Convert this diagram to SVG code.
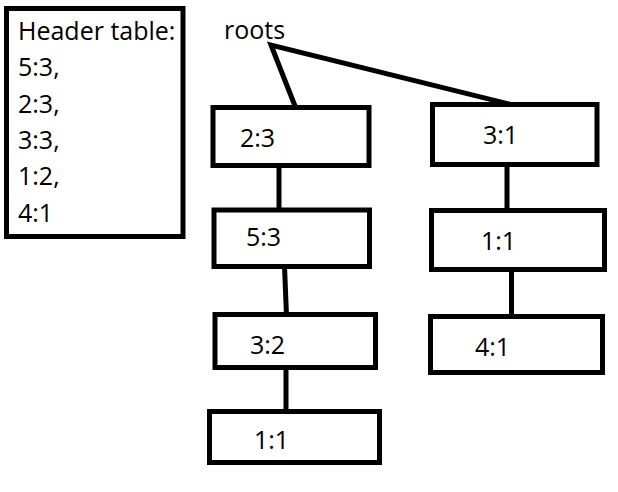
<svg xmlns="http://www.w3.org/2000/svg" width="618" height="492" viewBox="0 0 618 492">
<style>
.box{fill:#fff;stroke:#000;stroke-width:5}
.t{font-family:"Open Sans","DejaVu Sans",sans-serif;font-size:25px;fill:#000}
.c{stroke:#000;stroke-width:5;fill:none;stroke-linecap:butt}
</style>
<rect width="618" height="492" fill="#fff"/>
<g id="header">
<rect class="box" x="6.5" y="8.5" width="176.5" height="228"/>
<text class="t" x="18" y="40">Header table:</text>
<text class="t" x="18" y="76">5:3,</text>
<text class="t" x="18" y="113">2:3,</text>
<text class="t" x="18" y="149">3:3,</text>
<text class="t" x="18" y="185">1:2,</text>
<text class="t" x="18" y="222">4:1</text>
</g>
<g id="roots"><text class="t" x="224" y="39">roots</text></g>
<g id="connectors">
<polyline class="c" points="295,106 271,45 517,106"/>
<line class="c" x1="279" y1="165" x2="279" y2="209"/>
<line class="c" x1="284.5" y1="266" x2="286.5" y2="316"/>
<line class="c" x1="286" y1="367" x2="286" y2="411"/>
<line class="c" x1="507" y1="164" x2="507" y2="211"/>
<line class="c" x1="511.5" y1="269" x2="511.5" y2="316"/>
</g>
<g id="n23"><rect class="box" x="213" y="107.5" width="156" height="58"/><text class="t" x="240" y="147">2:3</text></g>
<g id="n53"><rect class="box" x="214" y="210" width="155.5" height="56.5"/><text class="t" x="246" y="246">5:3</text></g>
<g id="n32"><rect class="box" x="215" y="314.5" width="160.5" height="53"/><text class="t" x="250" y="354">3:2</text></g>
<g id="n11a"><rect class="box" x="209.5" y="411.5" width="170" height="51"/><text class="t" x="254" y="449">1:1</text></g>
<g id="n31"><rect class="box" x="432.5" y="104.5" width="164.5" height="60"/><text class="t" x="483" y="144">3:1</text></g>
<g id="n11b"><rect class="box" x="431.5" y="210.5" width="173" height="59"/><text class="t" x="481" y="250">1:1</text></g>
<g id="n41"><rect class="box" x="430.5" y="316.5" width="172" height="56"/><text class="t" x="475" y="355.5">4:1</text></g>
</svg>
